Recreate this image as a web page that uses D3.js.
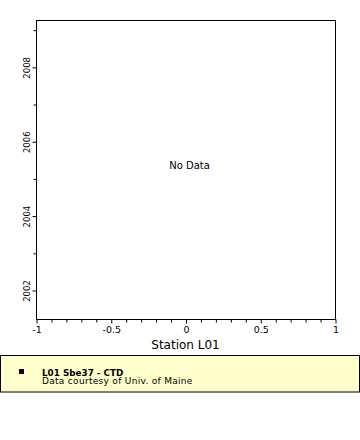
<!DOCTYPE html>
<html>
<head>
<meta charset="utf-8">
<script src="https://cdnjs.cloudflare.com/ajax/libs/d3/7.8.5/d3.min.js"></script>
<style>
  body { margin: 0; background: #fff; }
  svg { display: block; font-family: "DejaVu Sans", sans-serif; }
</style>
</head>
<body>
<svg id="chart" width="360" height="440"></svg>
<script>
// chart values
var xDomain = [-1, 1];
var yDomain = [2001.22, 2009.26];
var xTicks = [-1, -0.5, 0, 0.5, 1];
var xMinorTicks = [-0.9, -0.8, -0.7, -0.6, -0.4, -0.3, -0.2, -0.1, 0.1, 0.2, 0.3, 0.4, 0.6, 0.7, 0.8, 0.9];
var yTicks = [2002, 2004, 2006, 2008];
var yMinorTicks = [2003, 2005, 2007, 2009];
var xTitle = "Station L01";
var emptyText = "No Data";
var legendTitle = "L01 Sbe37 - CTD";
var legendNote = "Data courtesy of Univ. of Maine";

function drawChart() {
  var svg = d3.select("#chart");

  var mLeft = 36, mTop = 20, mRight = 335, mBottom = 319;

  var x = d3.scaleLinear().domain(xDomain).range([mLeft, mRight]);
  var y = d3.scaleLinear().domain(yDomain).range([mBottom, mTop]);

  // plain hyphen for negatives, like the original
  var fmtX = function(d) { return String(d); };

  // frame
  svg.append("rect")
    .attr("x", mLeft + 0.5)
    .attr("y", mTop + 0.5)
    .attr("width", mRight - mLeft)
    .attr("height", mBottom - mTop)
    .style("fill", "none")
    .style("stroke", "#000")
    .style("stroke-width", 1);

  // x axis: minor ticks then major
  svg.append("g")
    .attr("transform", "translate(0.5," + (mBottom + 0.5) + ")")
    .call(d3.axisBottom(x).tickValues(xMinorTicks).tickSize(3).tickFormat(""))
    .call(function(g) { g.select(".domain").remove(); });

  var xAxis = svg.append("g")
    .attr("transform", "translate(0.5," + (mBottom + 0.5) + ")")
    .call(d3.axisBottom(x).tickValues(xTicks).tickSize(4).tickPadding(3).tickFormat(fmtX));
  xAxis.select(".domain").remove();
  xAxis.selectAll("text")
    .style("font-size", "9.5px")
    .style("font-family", "DejaVu Sans, sans-serif")
    .attr("fill", "#000");

  // y axis
  svg.append("g")
    .attr("transform", "translate(" + (mLeft + 0.5) + ",0.5)")
    .call(d3.axisLeft(y).tickValues(yMinorTicks).tickSize(3).tickFormat(""))
    .call(function(g) { g.select(".domain").remove(); });

  var yAxis = svg.append("g")
    .attr("transform", "translate(" + (mLeft + 0.5) + ",0.5)")
    .call(d3.axisLeft(y).tickValues(yTicks).tickSize(4).tickFormat(d3.format("d")));
  yAxis.select(".domain").remove();
  yAxis.selectAll("text")
    .attr("x", null)
    .attr("dy", null)
    .attr("transform", "translate(-6.5,0) rotate(-90)")
    .attr("text-anchor", "middle")
    .style("font-size", "8.5px")
    .style("font-family", "DejaVu Sans, sans-serif")
    .attr("fill", "#000");

  // x title
  svg.append("text")
    .attr("x", (mLeft + mRight) / 2)
    .attr("y", 349)
    .attr("text-anchor", "middle")
    .style("font-size", "12px")
    .text(xTitle);

  // empty message
  svg.append("text")
    .attr("x", (mLeft + mRight) / 2 + 4)
    .attr("y", 169)
    .attr("text-anchor", "middle")
    .style("font-size", "10px")
    .text(emptyText);

  // legend
  svg.append("rect")
    .attr("x", 0.5)
    .attr("y", 355.5)
    .attr("width", 359)
    .attr("height", 36.5)
    .style("fill", "#ffffcc")
    .style("stroke", "#000")
    .style("stroke-width", 1);

  svg.append("rect")
    .attr("x", 19)
    .attr("y", 369)
    .attr("width", 5)
    .attr("height", 5)
    .style("fill", "#000");

  svg.append("text")
    .attr("x", 42)
    .attr("y", 375.5)
    .style("font-size", "8.8px")
    .style("font-weight", "bold")
    .text(legendTitle);

  svg.append("text")
    .attr("x", 42)
    .attr("y", 384)
    .style("font-size", "9px")
    .style("letter-spacing", "0.3px")
    .text(legendNote);
}

drawChart();
</script>
</body>
</html>
